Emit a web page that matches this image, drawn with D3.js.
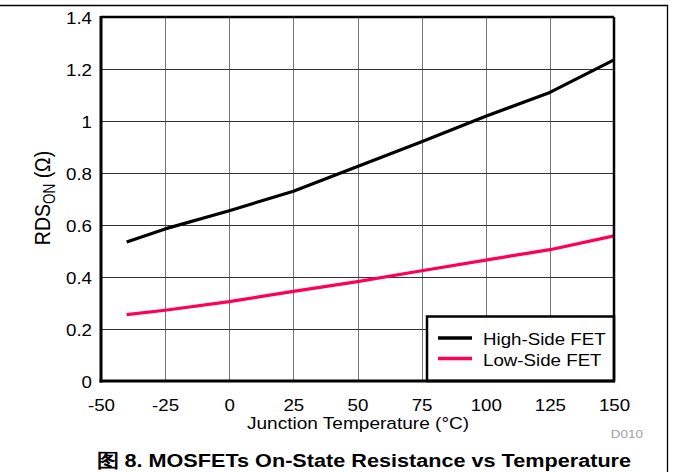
<!DOCTYPE html>
<html><head><meta charset="utf-8">
<script src="https://cdn.jsdelivr.net/npm/d3@7"></script>
<style>
html,body{margin:0;padding:0;background:#fff;}
svg{display:block;font-family:"Liberation Sans",Arial,sans-serif;}
</style></head>
<body>
<svg id="c" width="673" height="472"></svg>
<script>
const temps = [-40, -25, 0, 25, 50, 75, 100, 125, 150];
const highSide = [0.535, 0.585, 0.655, 0.73, 0.825, 0.92, 1.018, 1.11, 1.235];
const lowSide = [0.255, 0.272, 0.305, 0.345, 0.382, 0.424, 0.465, 0.505, 0.558];
const xTicks = [-50, -25, 0, 25, 50, 75, 100, 125, 150];
const yTicks = [0, 0.2, 0.4, 0.6, 0.8, 1, 1.2, 1.4];
const seriesNames = ["High-Side FET", "Low-Side FET"];
const seriesColors = ["#000000", "#ff0055"];

const SX = 1.17; // horizontal stretch of the reference lettering
const svg = d3.select("#c");
const m = {l: 101, r: 614, t: 17, b: 381};
const x = d3.scaleLinear().domain([-50, 150]).range([m.l, m.r]);
const y = d3.scaleLinear().domain([0, 1.4]).range([m.b, m.t]);

function label(px, py, txt, size, anchor, opts) {
  const t = svg.append("text")
    .attr("transform", `translate(${px},${py}) scale(${SX},1)`)
    .attr("text-anchor", anchor).attr("font-size", size).text(txt);
  if (opts && opts.fill) t.attr("fill", opts.fill);
  if (opts && opts.bold) t.attr("font-weight", "bold");
  return t;
}

// outer frame
svg.append("path").attr("d", "M0,5.5H667.5V472").attr("fill", "none").attr("stroke", "#000").attr("stroke-width", 1.3);

// gridlines
svg.append("g").selectAll("line").data(xTicks.slice(1, -1)).join("line")
  .attr("x1", d => Math.round(x(d)) + 0.5).attr("x2", d => Math.round(x(d)) + 0.5)
  .attr("y1", m.t).attr("y2", m.b).attr("stroke", "#777").attr("stroke-width", 1);
svg.append("g").selectAll("line").data(yTicks.slice(1, -1)).join("line")
  .attr("x1", m.l).attr("x2", m.r)
  .attr("y1", d => Math.round(y(d)) + 0.5).attr("y2", d => Math.round(y(d)) + 0.5)
  .attr("stroke", "#333").attr("stroke-width", 1);

// axes with tick labels
const xAxis = svg.append("g").attr("transform", `translate(0,${m.b})`)
  .call(d3.axisBottom(x).tickValues(xTicks).tickSize(0).tickPadding(0).tickFormat(d => String(d)));
const yAxis = svg.append("g").attr("transform", `translate(${m.l},0)`)
  .call(d3.axisLeft(y).tickValues(yTicks).tickSize(0).tickPadding(0).tickFormat(d => String(+d.toFixed(1))));
[xAxis, yAxis].forEach(a => {
  a.select(".domain").remove();
  a.attr("font-size", null).attr("font-family", null);
  a.selectAll("text").attr("font-size", 16).attr("fill", "#000");
});
xAxis.selectAll("text").attr("y", 0).attr("dy", null).attr("transform", `translate(0,30) scale(${SX},1)`);
yAxis.selectAll("text").attr("x", 0).attr("dy", null).attr("y", 0).attr("transform", `translate(-9,6) scale(${SX},1)`);

// plot border
svg.append("line").attr("x1", m.l).attr("x2", m.r).attr("y1", m.t).attr("y2", m.t).attr("stroke", "#000").attr("stroke-width", 2.5);
svg.append("line").attr("x1", m.l).attr("x2", m.l).attr("y1", m.t - 1).attr("y2", m.b + 1.5).attr("stroke", "#000").attr("stroke-width", 3);

// series lines
const line = d3.line().x((d, i) => x(temps[i])).y(d => y(d));
[highSide, lowSide].forEach((s, k) => {
  svg.append("path").datum(s).attr("d", line).attr("fill", "none")
    .attr("stroke", seriesColors[k]).attr("stroke-width", 3.2).attr("stroke-linejoin", "round");
});

// legend
svg.append("rect").attr("x", 427).attr("y", 316.5).attr("width", m.r - 427).attr("height", m.b - 316.5)
  .attr("fill", "#fff").attr("stroke", "#000").attr("stroke-width", 2.5);
seriesNames.forEach((n, k) => {
  const yy = 338 + k * 20.5;
  svg.append("line").attr("x1", 438).attr("x2", 472).attr("y1", yy).attr("y2", yy)
    .attr("stroke", seriesColors[k]).attr("stroke-width", 3.5);
  label(483, yy + 7, n, 16, "start");
});
// bottom & right axis lines on top
svg.append("line").attr("x1", m.l - 1.5).attr("x2", m.r + 1).attr("y1", m.b).attr("y2", m.b).attr("stroke", "#000").attr("stroke-width", 3);
svg.append("line").attr("x1", m.r).attr("x2", m.r).attr("y1", m.t).attr("y2", m.b).attr("stroke", "#000").attr("stroke-width", 2.5);

// axis titles
label(358, 429, "Junction Temperature (°C)", 16.3, "middle");
const yl = svg.append("text").attr("transform", `translate(50,198) scale(${SX},1) rotate(-90)`)
  .attr("text-anchor", "middle").attr("font-size", 19.5);
yl.append("tspan").text("RDS");
yl.append("tspan").attr("font-size", 13.5).attr("dy", 4.5).text("ON");
yl.append("tspan").attr("dy", -4.5).text(" (Ω)");

label(643, 438, "D010", 11.5, "end", {fill: "#a0a0a0"});
label(364, 467, "图 8. MOSFETs On-State Resistance vs Temperature", 18.5, "middle", {bold: true});
</script>
</body></html>
